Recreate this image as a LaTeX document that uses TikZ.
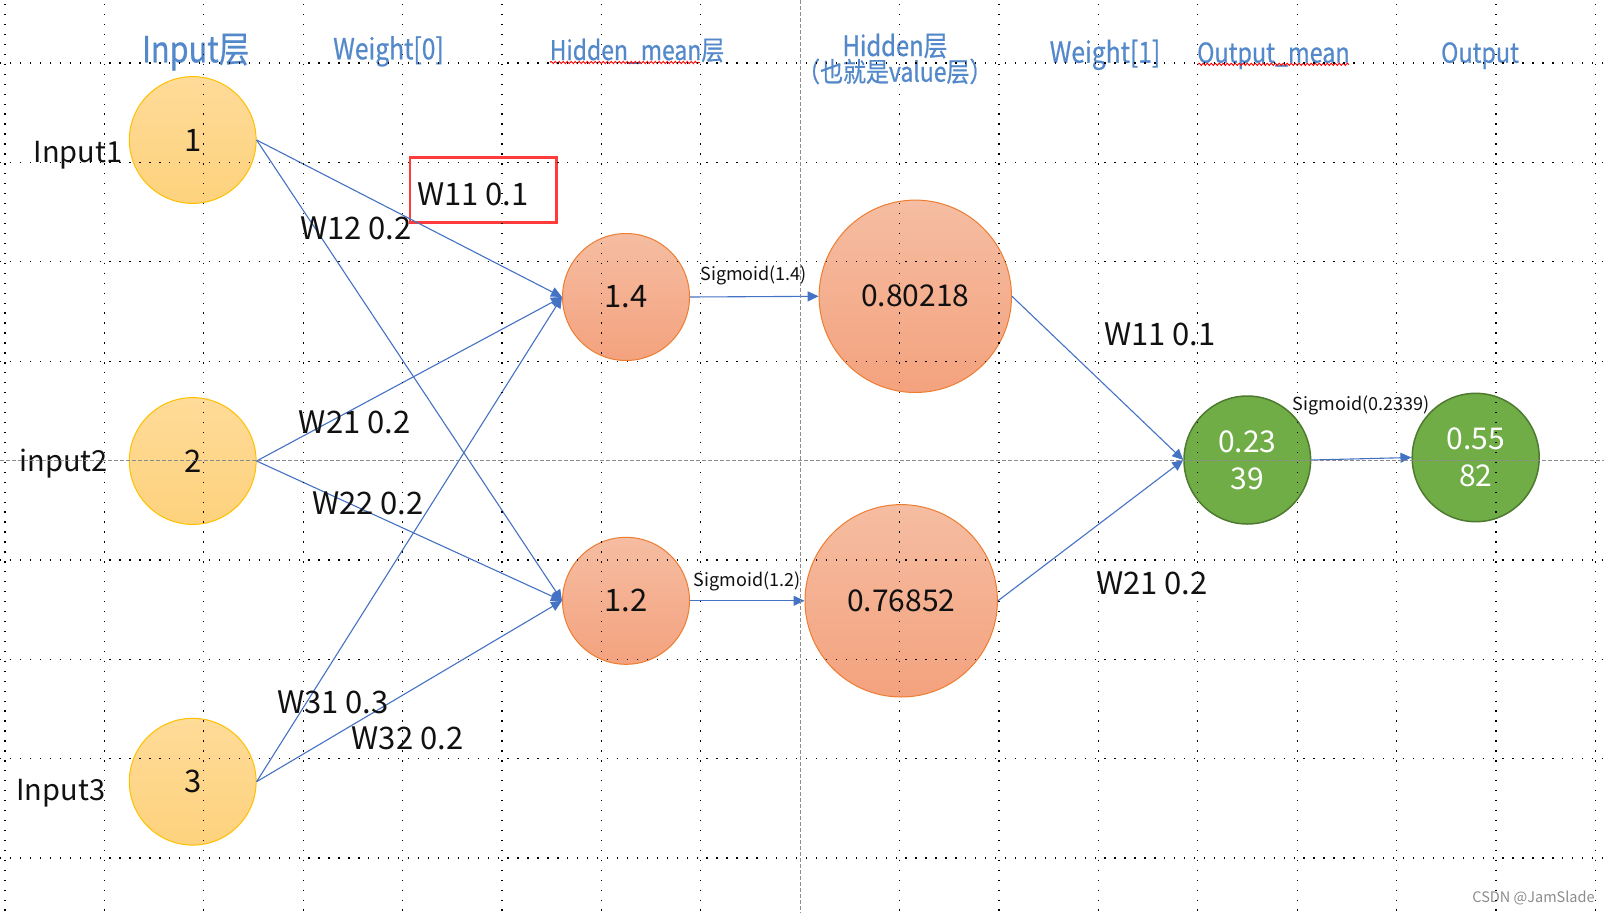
\documentclass[tikz,border=0pt]{standalone}
\usepackage{fontspec}
\setmainfont{Noto Sans CJK SC}
\newfontfamily\hdrfont[FakeStretch=0.85,FakeBold=0.6]{Noto Sans CJK SC}
\usetikzlibrary{arrows.meta,shapes.geometric,decorations.pathmorphing}
\definecolor{edgeblue}{HTML}{4472C4}
\definecolor{inborder}{HTML}{FFC000}
\definecolor{intop}{HTML}{FEDB98}
\definecolor{inbot}{HTML}{FED27D}
\definecolor{hborder}{HTML}{ED7D31}
\definecolor{htop}{HTML}{F5BDA2}
\definecolor{hbot}{HTML}{F4A27E}
\definecolor{gfill}{HTML}{70AD47}
\definecolor{gborder}{HTML}{4E7A30}
\definecolor{hdrblue}{HTML}{5389CA}
\definecolor{boxred}{HTML}{FF3B3B}
\definecolor{dashgrey}{HTML}{8C8C8C}
\definecolor{txt}{HTML}{111111}
\begin{document}
\begin{tikzpicture}[x=1pt,y=-1pt,
  innode/.style={circle,draw=inborder,line width=1pt,top color=intop,bottom color=inbot,
    minimum size=126.8pt,inner sep=0pt,text=txt,font=\fontsize{31}{36}\selectfont},
  hmnode/.style={circle,draw=hborder,line width=1pt,top color=htop,bottom color=hbot,
    minimum size=127pt,inner sep=0pt,text=txt,font=\fontsize{31}{36}\selectfont},
  hnode/.style={hmnode,minimum size=192.4pt,font=\fontsize{30}{36}\selectfont},
  gnode/.style={ellipse,draw=gborder,line width=1.5pt,fill=gfill,minimum width=126.6pt,
    minimum height=128pt,inner sep=0pt,text=white,align=center,font=\fontsize{30}{37}\selectfont},
  conn/.style={draw=edgeblue,line width=1.1pt,-{Triangle[length=11pt,width=10pt]}},
  wlabel/.style={anchor=base,inner sep=0pt,text=txt,font=\fontsize{31}{34}\selectfont},
  ilabel/.style={anchor=base,inner sep=0pt,text=txt,font=\fontsize{29}{32}\selectfont},
  sglabel/.style={anchor=base,inner sep=0pt,text=txt,font=\fontsize{18}{20}\selectfont},
  hdr/.style={anchor=base,inner sep=0pt,text=hdrblue},
  squiggle/.style={draw=red,line width=0.9pt,decorate,decoration={snake,amplitude=1.1pt,segment length=4pt}},
  dotline/.style={draw=black,line width=1.3pt,dash pattern=on 1.3pt off 8.65pt},
  dashline/.style={draw=dashgrey,line width=1pt,dash pattern=on 3.5pt off 2.5pt}]
\useasboundingbox (0,0) rectangle (1604,913);
\fill[white] (0,0) rectangle (1604,913);

% nodes
\node[innode] (in1) at (192.7,140) {1};
\node[innode] (in2) at (192.7,461) {2};
\node[innode] (in3) at (192.7,781.7) {3};
\node[hmnode] (hm1) at (626,297) {1.4};
\node[hmnode] (hm2) at (626,600.8) {1.2};
\node[hnode] (h1) at (915.3,296.3) {0.80218};
\node[hnode] (h2) at (901.2,600.8) {0.76852};
\node[gnode] (om) at (1247.3,460) {0.23\\39};
\node[gnode,minimum width=127pt,minimum height=128.4pt] (out) at (1475.7,457.5) {0.55\\82};

% red box
\node[draw=boxred,line width=2.7pt,minimum width=146.6pt,minimum height=65.3pt,inner sep=0pt] (wbox) at (483.3,190) {};

% connectors
\foreach \a in {in1,in2,in3}{
  \draw[conn] (\a.east) -- (hm1.west);
  \draw[conn] (\a.east) -- (hm2.west);
}
\draw[conn] (hm1.east) -- (h1.west);
\draw[conn] (hm2.east) -- (h2.west);
\draw[conn] (h1.east) -- (om.west);
\draw[conn] (h2.east) -- (om.west);
\draw[conn] (om.east) -- (out.west);

% labels
\node[wlabel] (w11a) at (473,205) {W11 0.1};
\node[wlabel] (w12) at (356,239.3) {W12 0.2};
\node[wlabel] (w21a) at (354.7,433.3) {W21 0.2};
\node[wlabel] (w22) at (368,514) {W22 0.2};
\node[wlabel] (w31) at (332.8,713.3) {W31 0.3};
\node[wlabel] (w32) at (407.5,749.3) {W32 0.2};
\node[wlabel] (w11b) at (1160,345) {W11 0.1};
\node[wlabel] (w21b) at (1152,594) {W21 0.2};

\node[ilabel] (lab1) at (78,162.7) {Input1};
\node[ilabel] (lab2) at (63.5,471) {input2};
\node[ilabel] (lab3) at (60.8,800) {Input3};

\node[sglabel] (sg1) at (753.7,280.7) {Sigmoid(1.4)};
\node[sglabel] (sg2) at (747,586) {Sigmoid(1.2)};
\node[sglabel] (sg3) at (1361,410.7) {Sigmoid(0.2339)};

% headers
\node[hdr,font=\hdrfont\fontsize{36}{38}\selectfont] (t1) at (195.7,62.3) {Input层};
\node[hdr,font=\hdrfont\fontsize{29}{32}\selectfont] (t2) at (388.5,59.3) {Weight[0]};
\node[hdr,font=\hdrfont\fontsize{27}{30}\selectfont] (t3) at (637,60) {Hidden\_mean层};
\node[hdr,font=\hdrfont\fontsize{28}{30}\selectfont] (t4) at (895,56) {Hidden层};
\node[hdr,font=\hdrfont\fontsize{27}{30}\selectfont] (t4b) at (894.8,81.7) {（也就是value层）};
\node[hdr,font=\hdrfont\fontsize{29}{32}\selectfont] (t5) at (1105,62.7) {Weight[1]};
\node[hdr,font=\hdrfont\fontsize{27.5}{30}\selectfont] (t6) at (1273.4,62.7) {Output\_mean};
\node[hdr,font=\hdrfont\fontsize{27.5}{30}\selectfont] (t7) at (1480,62.7) {Output};
\draw[squiggle] (550,62.5) -- (700,62.5);
\draw[squiggle] (1198,64.3) -- (1349,64.3);

% watermark
\node[anchor=base,inner sep=0pt,text=black!45,font=\fontsize{14.5}{16}\selectfont] (wm) at (1533.5,902.5) {CSDN @JamSlade};

% grid
\foreach \k in {-4,-3,-2,-1,1,2,3,4}{
  \draw[dotline] (0,{460.5+99.35*\k}) -- (1604,{460.5+99.35*\k});
}
\foreach \k in {-8,-7,-6,-5,-4,-3,-2,-1,1,2,3,4,5,6,7,8}{
  \draw[dotline] ({800.2+99.4*\k},4) -- ({800.2+99.4*\k},913);
}
\draw[dashline] (0,460.5) -- (1604,460.5);
\draw[dashline] (800.2,0) -- (800.2,913);
\end{tikzpicture}
\end{document}
